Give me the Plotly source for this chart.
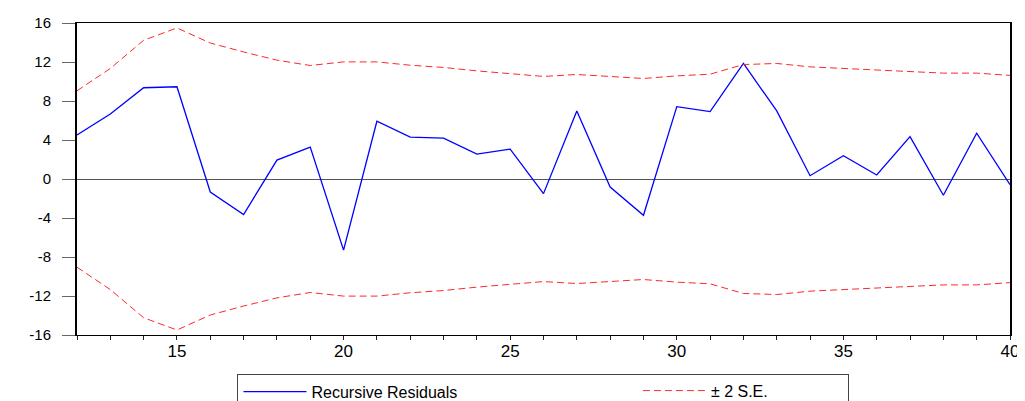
import plotly.graph_objects as go

periods = list(range(12, 41))
recursive_residuals = [4.52, 6.67, 9.36, 9.46, -1.33, -3.65, 1.94, 3.27, -7.29, 5.92,
                       4.29, 4.19, 2.55, 3.06, -1.50, 6.98, -0.82, -3.72, 7.42, 6.91,
                       11.85, 6.98, 0.34, 2.38, 0.41, 4.35, -1.67, 4.70, -0.58]
upper_band = [9.05, 11.34, 14.23, 15.49, 13.95, 13.03, 12.19, 11.64, 12.01, 12.01,
              11.67, 11.44, 11.09, 10.83, 10.52, 10.72, 10.48, 10.31, 10.58, 10.75,
              11.74, 11.85, 11.50, 11.34, 11.13, 11.03, 10.86, 10.86, 10.63]
lower_band = [-v for v in upper_band]
y_ticks = [-16, -12, -8, -4, 0, 4, 8, 12, 16]
x_ticks = [15, 20, 25, 30, 35, 40]

FONT = "Liberation Sans, Arial, sans-serif"
RED = "rgb(255,40,40)"

fig = go.Figure()
fig.add_trace(go.Scatter(x=periods, y=recursive_residuals, mode="lines",
                         name="Recursive Residuals", legend="legend",
                         line=dict(color="#0000FF", width=1.3)))
fig.add_trace(go.Scatter(x=periods, y=upper_band, mode="lines",
                         name="± 2 S.E.", legendgroup="se", legend="legend2",
                         line=dict(color=RED, width=1, dash="7px,4px")))
fig.add_trace(go.Scatter(x=periods, y=lower_band, mode="lines",
                         name="± 2 S.E.", legendgroup="se", showlegend=False,
                         legend="legend2",
                         line=dict(color=RED, width=1, dash="7px,4px")))

LEG_Y = -0.124
# page body has an 8px margin, so the figure is drawn at (8, 8)
fig.update_layout(
    width=1017, height=393,
    margin=dict(l=69, r=15, t=15, b=66, autoexpand=False),
    paper_bgcolor="white", plot_bgcolor="white",
    font=dict(family=FONT, color="black"),
    showlegend=True,
    legend=dict(orientation="h", x=0.172, xanchor="left", y=LEG_Y, yanchor="top",
                bordercolor="#444", borderwidth=1, bgcolor="white",
                font=dict(family=FONT, size=16, color="black"),
                itemwidth=63, entrywidth=532, entrywidthmode="pixels"),
    legend2=dict(orientation="h", x=0.6012, xanchor="left", y=LEG_Y, yanchor="top",
                 borderwidth=0, bgcolor="rgba(0,0,0,0)",
                 font=dict(family=FONT, size=16, color="black"),
                 itemwidth=63),
)
fig.update_xaxes(
    range=[12, 40], tickmode="array", tickvals=x_ticks,
    ticktext=[str(v) for v in x_ticks],
    ticks="outside", ticklen=4, tickcolor="#222", tickwidth=1,
    minor=dict(dtick=1, tick0=0, ticks="outside", ticklen=4, tickcolor="#222"),
    showline=True, linecolor="black", linewidth=1, mirror=True,
    showgrid=False, zeroline=False,
    tickfont=dict(family=FONT, size=17, color="black"),
    ticklabelstandoff=-3,
)
fig.update_yaxes(
    range=[-16, 16], tickmode="array", tickvals=y_ticks,
    ticktext=[str(v) for v in y_ticks],
    ticks="outside", ticklen=13, tickcolor="#666", tickwidth=1,
    showline=True, linecolor="black", linewidth=2, mirror=True,
    showgrid=False, zeroline=True, zerolinecolor="#555", zerolinewidth=1,
    tickfont=dict(family=FONT, size=15, color="black"),
    ticklabelstandoff=8,
)

fig.write_html("out.html")
